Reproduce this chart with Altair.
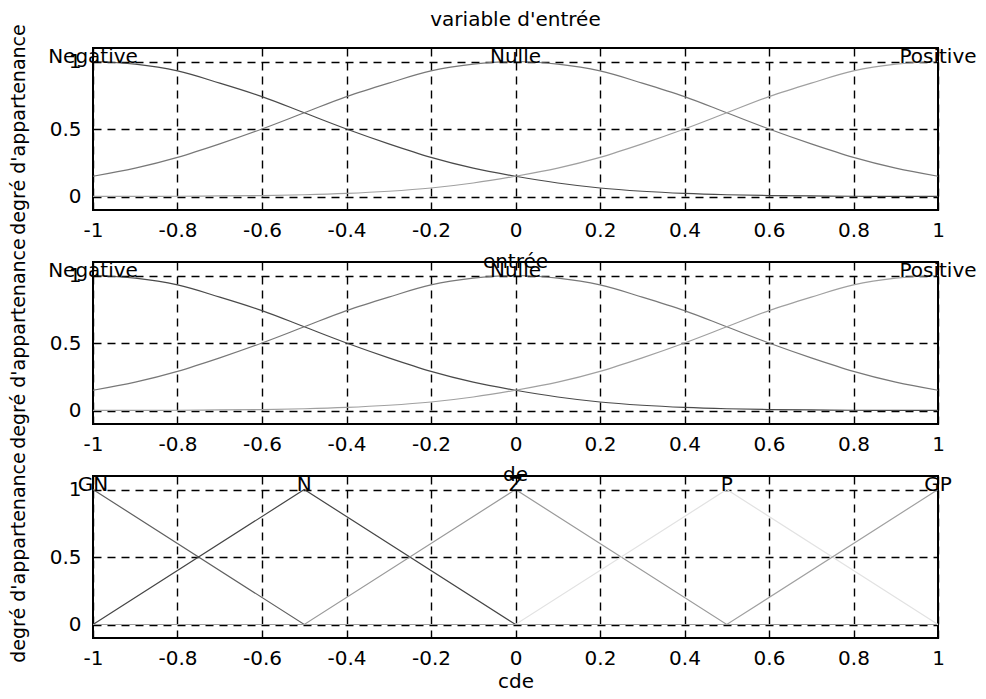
import altair as alt
import pandas as pd

FONT = "DejaVu Sans"

# ---- input variable (panels 1 and 2): membership degrees
x_in = [-1.0, -0.9, -0.8, -0.7, -0.6, -0.5, -0.4, -0.3, -0.2, -0.1, 0.0,
        0.1, 0.2, 0.3, 0.4, 0.5, 0.6, 0.7, 0.8, 0.9, 1.0]
negative = [1.0, 0.98, 0.93, 0.84, 0.74, 0.62, 0.50, 0.39, 0.29, 0.21, 0.15,
            0.10, 0.063, 0.039, 0.023, 0.013, 0.007, 0.004, 0.002, 0.001, 0.0005]
nulle = [0.15, 0.21, 0.29, 0.39, 0.50, 0.62, 0.74, 0.84, 0.93, 0.98, 1.0,
         0.98, 0.93, 0.84, 0.74, 0.62, 0.50, 0.39, 0.29, 0.21, 0.15]
positive = [0.0005, 0.001, 0.002, 0.004, 0.007, 0.013, 0.023, 0.039, 0.063, 0.10, 0.15,
            0.21, 0.29, 0.39, 0.50, 0.62, 0.74, 0.84, 0.93, 0.98, 1.0]
in_names = ["Negative", "Nulle", "Positive"]
in_peaks = [-1.0, 0.0, 1.0]
in_colors = ["#4a4a4a", "#787878", "#a0a0a0"]

# ---- output variable (panel 3): triangular membership functions
x_cde = [-1.0, -0.5, 0.0, 0.5, 1.0]
gn = [1, 0, 0, 0, 0]
n = [0, 1, 0, 0, 0]
z = [0, 0, 1, 0, 0]
p = [0, 0, 0, 1, 0]
gp = [0, 0, 0, 0, 1]
cde_names = ["GN", "N", "Z", "P", "GP"]
cde_peaks = [-1.0, -0.5, 0.0, 0.5, 1.0]
cde_colors = ["#606060", "#454545", "#9a9a9a", "#e2e2e2", "#a0a0a0"]

x_ticks = [-1, -0.8, -0.6, -0.4, -0.2, 0, 0.2, 0.4, 0.6, 0.8, 1]
y_ticks = [0, 0.5, 1]

in_df = pd.DataFrame({
    "x": x_in * 3,
    "y": negative + nulle + positive,
    "mf": ["Negative"] * len(x_in) + ["Nulle"] * len(x_in) + ["Positive"] * len(x_in),
})
cde_df = pd.DataFrame({
    "x": x_cde * 5,
    "y": gn + n + z + p + gp,
    "mf": sum([[nm] * len(x_cde) for nm in cde_names], []),
})
in_lab = pd.DataFrame({"x": in_peaks, "y": [1.0] * 3, "mf": in_names})
cde_lab = pd.DataFrame({"x": cde_peaks, "y": [1.0] * 5, "mf": cde_names})

GRID = dict(grid=True, gridColor="black", gridDash=[8, 6], gridWidth=1.4, gridOpacity=1)


def panel(df, lab, names, colors, interp, title, toff, xtitle):
    xaxis = dict(values=x_ticks, labelExpr="'' + datum.value", labelFlush=False,
                 ticks=False, domain=False,
                 labelFont=FONT, labelFontSize=20, labelColor="black", labelPadding=10,
                 titleFont=FONT, titleFontSize=20, titleFontWeight="normal",
                 titleColor="black", titlePadding=3, **GRID)
    xenc = alt.X("x:Q", scale=alt.Scale(domain=[-1, 1], nice=False, zero=False),
                 axis=alt.Axis(**xaxis), title=xtitle)
    yenc = alt.Y("y:Q", scale=alt.Scale(domain=[-0.1, 1.1], nice=False, zero=False),
                 axis=alt.Axis(values=y_ticks, labelExpr="'' + datum.value",
                               ticks=False, domain=False,
                               labelFont=FONT, labelFontSize=20, labelColor="black",
                               labelPadding=12,
                               titleFont=FONT, titleFontSize=19, titleFontWeight="normal",
                               titleColor="black", titlePadding=21, **GRID),
                 title="degré d'appartenance")
    lines = alt.Chart(df).mark_line(strokeWidth=1.2, interpolate=interp).encode(
        x=xenc, y=yenc,
        color=alt.Color("mf:N", scale=alt.Scale(domain=names, range=colors), legend=None),
    )
    texts = alt.Chart(lab).mark_text(font=FONT, fontSize=20, baseline="alphabetic",
                                     align="center", dy=1, color="black").encode(
        x="x:Q", y="y:Q", text="mf:N")
    return alt.layer(lines, texts).properties(
        width=845, height=162,
        title=alt.TitleParams(text=title, font=FONT, fontSize=20, fontWeight="normal",
                              baseline="alphabetic", offset=toff, frame="group",
                              color="black"),
    )


p1 = panel(in_df, in_lab, in_names, in_colors, "monotone", "variable d'entrée", -22, None)
p2 = panel(in_df, in_lab, in_names, in_colors, "monotone", "entrée", -50, None)
p3 = panel(cde_df, cde_lab, cde_names, cde_colors, "linear", "de", -49, "cde")

chart = alt.vconcat(p1, p2, p3, spacing=52, bounds="flush").resolve_scale(
    color="independent"
).properties(
    padding={"left": 0, "top": 0, "right": 0, "bottom": -4},
    background="white",
).configure_view(stroke="black", strokeWidth=2)

chart.save("out.html", embed_options={"renderer": "svg", "actions": False})
